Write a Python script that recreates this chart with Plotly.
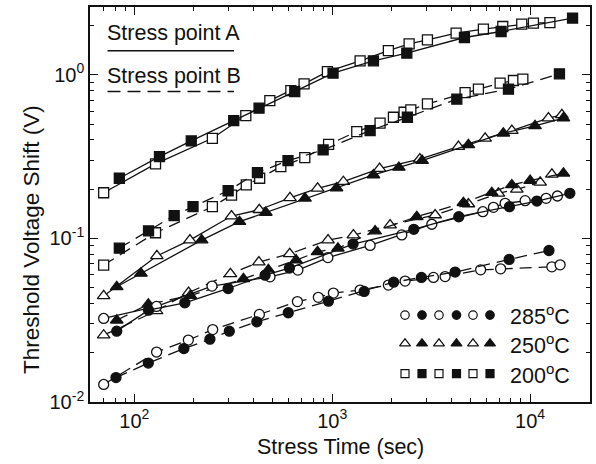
import plotly.graph_objects as go

# ---------------- data ----------------
t_200A_open = [70, 128, 248, 366, 484, 618, 721, 946, 1384, 1923, 2448, 3030, 4230, 5810, 7280, 9080, 10400, 12600]
v_200A_open = [0.190, 0.285, 0.409, 0.563, 0.695, 0.800, 0.880, 1.046, 1.217, 1.406, 1.545, 1.635, 1.797, 1.902, 1.972, 2.04, 2.07, 2.085]
t_200A_fill = [84, 134, 194, 318, 427, 647, 1010, 1616, 2383, 4660, 7140, 16400]
v_200A_fill = [0.233, 0.316, 0.394, 0.525, 0.625, 0.789, 1.023, 1.217, 1.356, 1.689, 1.838, 2.22]

t_200B_open = [70, 128, 248, 310, 368, 430, 550, 727, 959, 1331, 1746, 2039, 2309, 2497, 3030, 4697, 5483, 7060, 8245, 9195]
v_200B_open = [0.0687, 0.1082, 0.1561, 0.184, 0.212, 0.233, 0.2744, 0.3113, 0.375, 0.449, 0.5055, 0.550, 0.590, 0.610, 0.664, 0.778, 0.816, 0.888, 0.922, 0.940]
t_200B_fill = [84, 118, 159, 198, 298, 419, 598, 900, 1555, 2400, 4265, 7778, 14080]
v_200B_fill = [0.0872, 0.1111, 0.1379, 0.1561, 0.1955, 0.252, 0.2985, 0.347, 0.4555, 0.550, 0.709, 0.816, 1.013]

t_250A_open = [70, 130, 191, 310, 428, 612, 844, 1139, 1736, 2773, 4346, 5929, 8090, 12390, 14480]
v_250A_open = [0.0445, 0.0781, 0.0976, 0.1369, 0.1496, 0.177, 0.2023, 0.222, 0.2667, 0.3048, 0.3636, 0.409, 0.4555, 0.5426, 0.568]
t_250A_fill = [81.5, 108, 219, 340, 462, 729, 1052, 1616, 2173, 2848, 4880, 7330, 10600, 14750]
v_250A_fill = [0.0506, 0.0611, 0.0976, 0.1264, 0.1439, 0.1757, 0.2032, 0.244, 0.2713, 0.2985, 0.3724, 0.439, 0.4867, 0.5426]

t_250B_open = [70, 129.5, 188, 306, 426, 610, 953, 1280, 1962, 3313, 4882, 6921, 8576, 11250, 12890]
v_250B_open = [0.0256, 0.0361, 0.0466, 0.0607, 0.0716, 0.0805, 0.0976, 0.1047, 0.1206, 0.1389, 0.1622, 0.1885, 0.1995, 0.2201, 0.2464]
t_250B_fill = [81.5, 117.7, 192, 356, 476, 657, 843, 1069, 1648, 2677, 4604, 6410, 8089, 10010, 14750]
v_250B_fill = [0.0316, 0.0396, 0.0447, 0.0565, 0.0642, 0.0736, 0.0828, 0.0869, 0.1108, 0.1356, 0.1651, 0.1901, 0.212, 0.2252, 0.2499]

t_285A_open = [70, 129.5, 247, 485, 671, 951, 1555, 2248, 3188, 5771, 6531, 7483, 9445, 12060, 13750]
v_285A_open = [0.0324, 0.0384, 0.0511, 0.0582, 0.064, 0.0763, 0.0906, 0.105, 0.122, 0.1455, 0.1548, 0.1637, 0.1699, 0.1757, 0.1815]
t_285A_fill = [81.5, 118, 180, 298, 458, 608, 1275, 2585, 4364, 7870, 10830, 15890]
v_285A_fill = [0.0271, 0.0364, 0.0404, 0.0494, 0.0596, 0.0658, 0.0923, 0.1135, 0.1356, 0.1561, 0.1691, 0.1885]

t_285B_open = [70, 129.6, 187.5, 249, 428.5, 667, 851, 1014, 1384, 1923, 2336, 3249, 3721, 5627, 7101, 12890, 14190]
v_285B_open = [0.0128, 0.0202, 0.0239, 0.0277, 0.0343, 0.0411, 0.0436, 0.0463, 0.0483, 0.0518, 0.0548, 0.0577, 0.0584, 0.0642, 0.0651, 0.067, 0.0689]
t_285B_fill = [80.8, 117.7, 178, 241, 302, 416, 600, 957, 1451, 2044, 2825, 4181, 7841, 12460]
v_285B_fill = [0.0141, 0.0173, 0.0212, 0.0242, 0.0271, 0.0309, 0.0351, 0.0413, 0.0474, 0.054, 0.0577, 0.0622, 0.0744, 0.0843]

x_major = [100, 1000, 10000]
x_major_text = ["10<sup>2</sup>", "10<sup>3</sup>", "10<sup>4</sup>"]
y_major = [0.01, 0.1, 1]
y_major_text = ["10<sup>-2</sup>", "10<sup>-1</sup>", "10<sup>0</sup>"]
temps = ["285<sup>o</sup>C", "250<sup>o</sup>C", "200<sup>o</sup>C"]
legend_lines = ["Stress point A", "Stress point B"]
x_title = "Stress Time (sec)"
y_title = "Threshold Voltage Shift (V)"

# ---------------- styling ----------------
FONT = "Liberation Sans, Arial, Helvetica, sans-serif"
BLACK = "#111111"
DASH = "12px,7px"
TXT = 21.5

fig = go.Figure()

series = [
    (t_200A_open, v_200A_open, "square", False, "solid", 10),
    (t_200A_fill, v_200A_fill, "square", True, "solid", 10),
    (t_200B_open, v_200B_open, "square", False, DASH, 10),
    (t_200B_fill, v_200B_fill, "square", True, DASH, 10),
    (t_250A_open, v_250A_open, "triangle-up", False, "solid", 11),
    (t_250A_fill, v_250A_fill, "triangle-up", True, "solid", 11),
    (t_250B_open, v_250B_open, "triangle-up", False, DASH, 11),
    (t_250B_fill, v_250B_fill, "triangle-up", True, DASH, 11),
    (t_285A_open, v_285A_open, "circle", False, "solid", 10),
    (t_285A_fill, v_285A_fill, "circle", True, "solid", 10),
    (t_285B_open, v_285B_open, "circle", False, DASH, 10),
    (t_285B_fill, v_285B_fill, "circle", True, DASH, 10),
]
for t, v, sym, filled, dash, size in series:
    fig.add_trace(go.Scatter(
        x=t, y=v, mode="lines+markers", showlegend=False,
        line=dict(color=BLACK, width=1.3, dash=dash),
        marker=dict(symbol=sym, size=size, color=BLACK if filled else "white",
                    line=dict(color=BLACK, width=1.3)),
    ))

# legend symbols (overlay axis in plot-fraction units)
leg_syms = ["circle", "triangle-up", "square"]
leg_sizes = [8.5, 9.5, 8]
leg_y = [0.22, 0.148, 0.072]
leg_x = [0.630, 0.664, 0.698, 0.733, 0.766, 0.800]
for sym, sz, yy in zip(leg_syms, leg_sizes, leg_y):
    fig.add_trace(go.Scatter(
        x=leg_x, y=[yy] * len(leg_x), mode="markers", showlegend=False,
        xaxis="x2", yaxis="y2", hoverinfo="skip",
        marker=dict(symbol=sym, size=sz,
                    color=["white", BLACK] * 3,
                    line=dict(color=BLACK, width=1.2)),
    ))

for txt, yy in zip(temps, leg_y):
    fig.add_annotation(x=0.836, y=yy, xref="paper", yref="paper", text=txt,
                       showarrow=False, xanchor="left", yanchor="middle",
                       font=dict(family=FONT, size=TXT, color=BLACK))

# stress point legend
fig.add_annotation(x=0.030, y=0.935, xref="paper", yref="paper", text=legend_lines[0],
                   showarrow=False, xanchor="left", yanchor="middle",
                   font=dict(family=FONT, size=TXT, color=BLACK))
fig.add_annotation(x=0.030, y=0.826, xref="paper", yref="paper", text=legend_lines[1],
                   showarrow=False, xanchor="left", yanchor="middle",
                   font=dict(family=FONT, size=TXT, color=BLACK))
fig.add_shape(type="line", xref="paper", yref="paper", x0=0.035, x1=0.288, y0=0.889, y1=0.889,
              line=dict(color=BLACK, width=1.5))
fig.add_shape(type="line", xref="paper", yref="paper", x0=0.035, x1=0.288, y0=0.786, y1=0.786,
              line=dict(color=BLACK, width=1.5, dash="13px,7px"))

# axis titles
fig.add_annotation(x=0.5, y=0, xref="paper", yref="paper", text=x_title,
                   showarrow=False, xanchor="center", yanchor="middle", yshift=-45,
                   font=dict(family=FONT, size=TXT, color=BLACK))
fig.add_annotation(x=-0.118, y=0.41, xref="paper", yref="paper", text=y_title,
                   showarrow=False, xanchor="center", yanchor="middle", textangle=-90,
                   font=dict(family=FONT, size=22.5, color=BLACK))

x_minor = [m * 10 ** e for e in (1, 2, 3, 4) for m in range(2, 10)]
y_minor = [m * 10 ** e for e in (-2, -1, 0) for m in range(2, 10)]

axis_common = dict(
    showline=True, linecolor=BLACK, linewidth=1.6, mirror="allticks",
    ticks="inside", ticklen=8, tickwidth=1.2, tickcolor=BLACK,
    showgrid=False, zeroline=False, automargin=False,
    tickfont=dict(family=FONT, size=20, color=BLACK),
)

fig.update_layout(
    width=596, height=464,
    margin=dict(l=90, r=6, t=7, b=62),
    paper_bgcolor="white", plot_bgcolor="white",
    font=dict(family=FONT, color=BLACK),
    xaxis=dict(type="log", range=[1.776, 4.303], tickmode="array",
               tickvals=x_major, ticktext=x_major_text,
               minor=dict(tickmode="array", tickvals=x_minor, ticks="inside",
                          ticklen=4, tickwidth=1.0, tickcolor=BLACK, showgrid=False),
               **axis_common),
    yaxis=dict(type="log", range=[-2, 0.414], tickmode="array",
               tickvals=y_major, ticktext=y_major_text,
               minor=dict(tickmode="array", tickvals=y_minor, ticks="inside",
                          ticklen=4, tickwidth=1.0, tickcolor=BLACK, showgrid=False),
               **axis_common),
    xaxis2=dict(overlaying="x", range=[0, 1], visible=False),
    yaxis2=dict(overlaying="y", range=[0, 1], visible=False),
)

fig.write_html("out.html", config={"displayModeBar": False},
               post_script="document.body.style.margin='0';document.body.style.overflow='hidden';")
